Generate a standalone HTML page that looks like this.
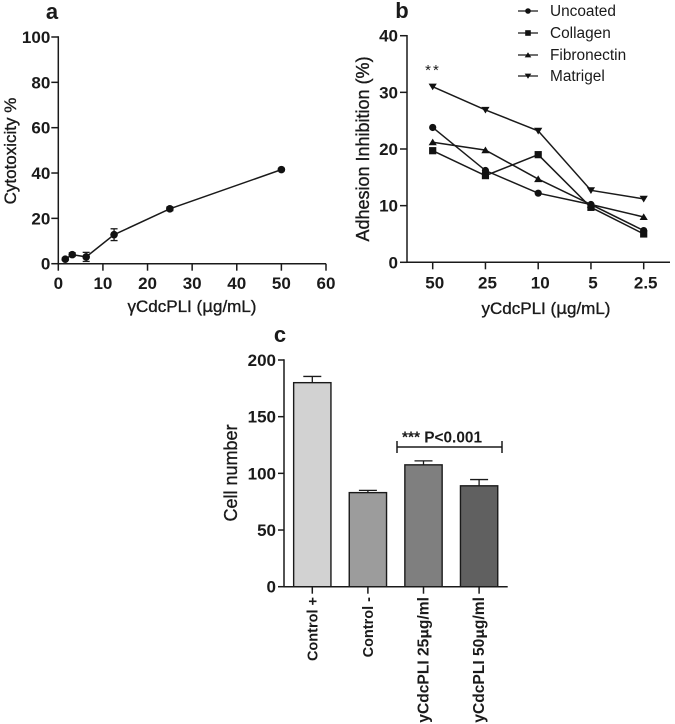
<!DOCTYPE html>
<html>
<head>
<meta charset="utf-8">
<style>
html,body{margin:0;padding:0;background:#fff;width:675px;height:724px;overflow:hidden}
svg{display:block;filter:blur(0.35px)}
text{font-family:"Liberation Sans",sans-serif;fill:#1a1a1a}
.t{font-weight:bold;font-size:17px}
.at{font-size:17px;stroke:#1a1a1a;stroke-width:.35px}
.at2{font-size:18px;stroke:#1a1a1a;stroke-width:.35px}
.p{font-weight:bold;font-size:22px}
</style>
</head>
<body>
<svg id="fig" width="675" height="724" viewBox="0 0 675 724" xmlns="http://www.w3.org/2000/svg"></svg>
<script>
// Panel a
const aDose = [1.56, 3.125, 6.25, 12.5, 25, 50];
const aCytotoxicity = [2, 4, 3, 12.8, 24.2, 41.5];
const aError = [0.5, 0.8, 2, 2.6, 0.8, 0.5];
const aXTicks = [0, 10, 20, 30, 40, 50, 60];
const aYTicks = [0, 20, 40, 60, 80, 100];
// Panel b
const bCategories = ['50', '25', '10', '5', '2.5'];
const bUncoated = [23.8, 16.2, 12.2, 10.2, 5.6];
const bCollagen = [19.7, 15.3, 19, 9.7, 5];
const bFibronectin = [21.2, 19.8, 14.7, 10.2, 8];
const bMatrigel = [31, 26.9, 23.2, 12.7, 11.2];
const bYTicks = [0, 10, 20, 30, 40];
// Panel c
const cCategories = ['Control +', 'Control -', 'yCdcPLI 25', 'yCdcPLI 50'];
const cValues = [180, 83, 107.5, 89];
const cErrors = [5.5, 2, 3.5, 5.5];
const cColors = ['#d2d2d2', '#9c9c9c', '#7f7f7f', '#606060'];
const cYTicks = [0, 50, 100, 150, 200];

const NS = 'http://www.w3.org/2000/svg';
const fig = document.getElementById('fig');
const INK = '#1a1a1a';

function make(tag, name, props, parent) {
  const el = document.createElementNS(NS, tag);
  
  
  for (const k in props) el.setAttribute(k, props[k]);
  (parent || fig).appendChild(el);
  return el;
}
function line(name, x1, y1, x2, y2, w, parent) {
  return make('line', name, {x1: x1, y1: y1, x2: x2, y2: y2, stroke: INK, 'stroke-width': w || 1.5}, parent);
}
function label(name, s, x, y, cls, anchor, parent) {
  const t = make('text', name, {x: x, y: y, class: cls, 'text-anchor': anchor || 'middle'}, parent);
  t.textContent = s;
  return t;
}
function marker(kind, name, x, y, r, parent) {
  if (kind === 'circle') return make('circle', name, {cx: x, cy: y, r: r, fill: '#111'}, parent);
  if (kind === 'square') return make('rect', name, {x: x - r, y: y - r, width: 2 * r, height: 2 * r, fill: '#111'}, parent);
  const s = kind === 'up' ? 1 : -1;
  return make('polygon', name, {points: [[x - r - .5, y + s * r * .85], [x + r + .5, y + s * r * .85], [x, y - s * r]].map(p => p.join(',')).join(' '), fill: '#111'}, parent);
}
function polyline(name, pts, parent) {
  return make('polyline', name, {points: pts.map(p => p.join(',')).join(' '), fill: 'none', stroke: INK, 'stroke-width': 1.5}, parent);
}
function mu(textEl, prefix, suffix, size) {
  textEl.textContent = prefix;
  const m = document.createElementNS(NS, 'tspan');
  m.setAttribute('font-family', '"DejaVu Sans", sans-serif');
  if (size) m.setAttribute('font-size', size);
  m.textContent = '\u03bc';
  textEl.appendChild(m);
  textEl.appendChild(document.createTextNode(suffix));
}

/* ---------- Panel a ---------- */
const ga = make('g', 'panel-a', {});
const axL = 58.3, axR = 326, ayB = 263.7, ayT = 37;
const ax = v => axL + v / 60 * (axR - axL);
const ay = v => ayB - v / 100 * (ayB - ayT);
label('panel-a-label', 'a', 52, 19, 'p', 'middle', ga);
line('a-y-axis', axL, ayT - .7, axL, ayB + .7, 1.5, ga);
line('a-x-axis', axL, ayB, axR, ayB, 1.5, ga);
aYTicks.forEach(v => {
  line('a-y-tick', axL - 7, ay(v), axL, ay(v), 1.5, ga);
  label('a-y-tick-label', String(v), axL - 8, ay(v) + 6, 't', 'end', ga);
});
aXTicks.forEach(v => {
  line('a-x-tick', ax(v), ayB, ax(v), ayB + 7, 1.5, ga);
  label('a-x-tick-label', String(v), ax(v), ayB + 25.5, 't', 'middle', ga);
});
polyline('a-series-line', aDose.map((d, i) => [ax(d), ay(aCytotoxicity[i])]), ga);
aDose.forEach((d, i) => {
  const x = ax(d), hi = ay(aCytotoxicity[i] + aError[i]), lo = ay(aCytotoxicity[i] - aError[i]);
  line('a-error-bar', x, hi, x, lo, 1.3, ga);
  line('a-error-cap', x - 3.5, hi, x + 3.5, hi, 1.3, ga);
  line('a-error-cap', x - 3.5, lo, x + 3.5, lo, 1.3, ga);
  marker('circle', 'a-point', x, ay(aCytotoxicity[i]), 3.8, ga);
});
mu(label('a-x-axis-title', '', 192, 312, 'at', 'middle', ga), '\u03b3CdcPLI (', 'g/mL)');
label('a-y-axis-title', 'Cytotoxicity %', 0, 0, 'at', 'middle', ga).setAttribute('transform', 'translate(16,151) rotate(-90)');

/* ---------- Panel b ---------- */
const gb = make('g', 'panel-b', {});
const bxL = 407, bxR = 670, byB = 262.3, byT = 35.7;
const bx = i => 432.7 + i * 52.75;
const by = v => byB - v / 40 * (byB - byT);
label('panel-b-label', 'b', 402, 18, 'p', 'middle', gb);
line('b-y-axis', bxL, byT - .7, bxL, byB + .7, 1.5, gb);
line('b-x-axis', bxL, byB, bxR, byB, 1.5, gb);
bYTicks.forEach(v => {
  line('b-y-tick', bxL - 7, by(v), bxL, by(v), 1.5, gb);
  label('b-y-tick-label', String(v), bxL - 9, by(v) + 6, 't', 'end', gb);
});
bCategories.forEach((c, i) => {
  line('b-x-tick', bx(i), byB, bx(i), byB + 7, 1.5, gb);
  label('b-x-tick-label', c, bx(i) + 2, byB + 26, 't', 'middle', gb);
});
const bSeries = [
  {name: 'uncoated', label: 'Uncoated', vals: bUncoated, kind: 'circle', r: 3.6},
  {name: 'collagen', label: 'Collagen', vals: bCollagen, kind: 'square', r: 3.6},
  {name: 'fibronectin', label: 'Fibronectin', vals: bFibronectin, kind: 'up', r: 3.6},
  {name: 'matrigel', label: 'Matrigel', vals: bMatrigel, kind: 'down', r: 3.6}
];
const legendY = [11, 33, 55, 76];
bSeries.forEach((s, k) => {
  polyline('b-line-' + s.name, s.vals.map((v, i) => [bx(i), by(v)]), gb);
  s.vals.forEach((v, i) => marker(s.kind, 'b-point-' + s.name, bx(i), by(v), s.r, gb));
  const lg = make('g', 'legend-entry-' + s.name, {}, gb);
  line('legend-line', 518, legendY[k], 538, legendY[k], 1.3, lg);
  marker(s.kind, 'legend-marker', 528, legendY[k], 2.8, lg);
  const t = label('legend-label', s.label, 550, legendY[k] + 5, '', 'start', lg);
  t.setAttribute('font-size', '15.4');
});
const star = label('b-significance', '**', 433, 75, '', 'middle', gb);
star.setAttribute('font-size', '15');
star.setAttribute('letter-spacing', '2');
mu(label('b-x-axis-title', '', 546, 314, 'at', 'middle', gb), 'yCdcPLI (', 'g/mL)');
label('b-y-axis-title', 'Adhesion Inhibition (%)', 0, 0, 'at2', 'middle', gb).setAttribute('transform', 'translate(369,149) rotate(-90)');

/* ---------- Panel c ---------- */
const gc = make('g', 'panel-c', {});
const cxL = 284, cxR = 507.7, cyB = 586.7, cyT = 360;
const cx = i => 312.3 + i * 55.6;
const cy = v => cyB - v / 200 * (cyB - cyT);
const barW = 37.3;
label('panel-c-label', 'c', 280, 342, 'p', 'middle', gc);
cValues.forEach((v, i) => {
  const x = cx(i), top = cy(v), errTop = cy(v + cErrors[i]);
  line('c-error-bar', x, top, x, errTop, 1.3, gc);
  line('c-error-cap', x - 9, errTop, x + 9, errTop, 1.3, gc);
  make('rect', 'bar-' + (i + 1), {x: x - barW / 2, y: top, width: barW, height: cyB - top, fill: cColors[i], stroke: INK, 'stroke-width': 1.4}, gc);
  line('c-x-tick', x, cyB, x, cyB + 7, 1.5, gc);
  const t = label('c-x-tick-label', '', 0, 0, '', 'end', gc);
  t.setAttribute('font-weight', 'bold');
  t.setAttribute('transform', 'translate(' + (x + 5) + ',597) rotate(-90)');
  if (i < 2) {
    t.setAttribute('font-size', '14.5');
    t.textContent = cCategories[i];
  } else {
    t.setAttribute('font-size', '15.6');
    mu(t, cCategories[i], 'g/ml', '13');
  }
});
line('c-y-axis', cxL, cyT - .7, cxL, cyB + .7, 1.5, gc);
line('c-x-axis', cxL, cyB, cxR, cyB, 1.5, gc);
cYTicks.forEach(v => {
  line('c-y-tick', cxL - 6, cy(v), cxL, cy(v), 1.5, gc);
  label('c-y-tick-label', String(v), cxL - 8, cy(v) + 6, 't', 'end', gc);
});
label('c-y-axis-title', 'Cell number', 0, 0, 'at2', 'middle', gc).setAttribute('transform', 'translate(237,473) rotate(-90)');
line('c-bracket', 397, 447, 502, 447, 1.5, gc);
line('c-bracket-left', 397, 441, 397, 453, 1.5, gc);
line('c-bracket-right', 502, 441, 502, 453, 1.5, gc);
const sig = label('c-significance', '*** P<0.001', 402, 442.5, '', 'start', gc);
sig.setAttribute('font-size', '15.4');
sig.setAttribute('font-weight', 'bold');
</script>
</body>
</html>
